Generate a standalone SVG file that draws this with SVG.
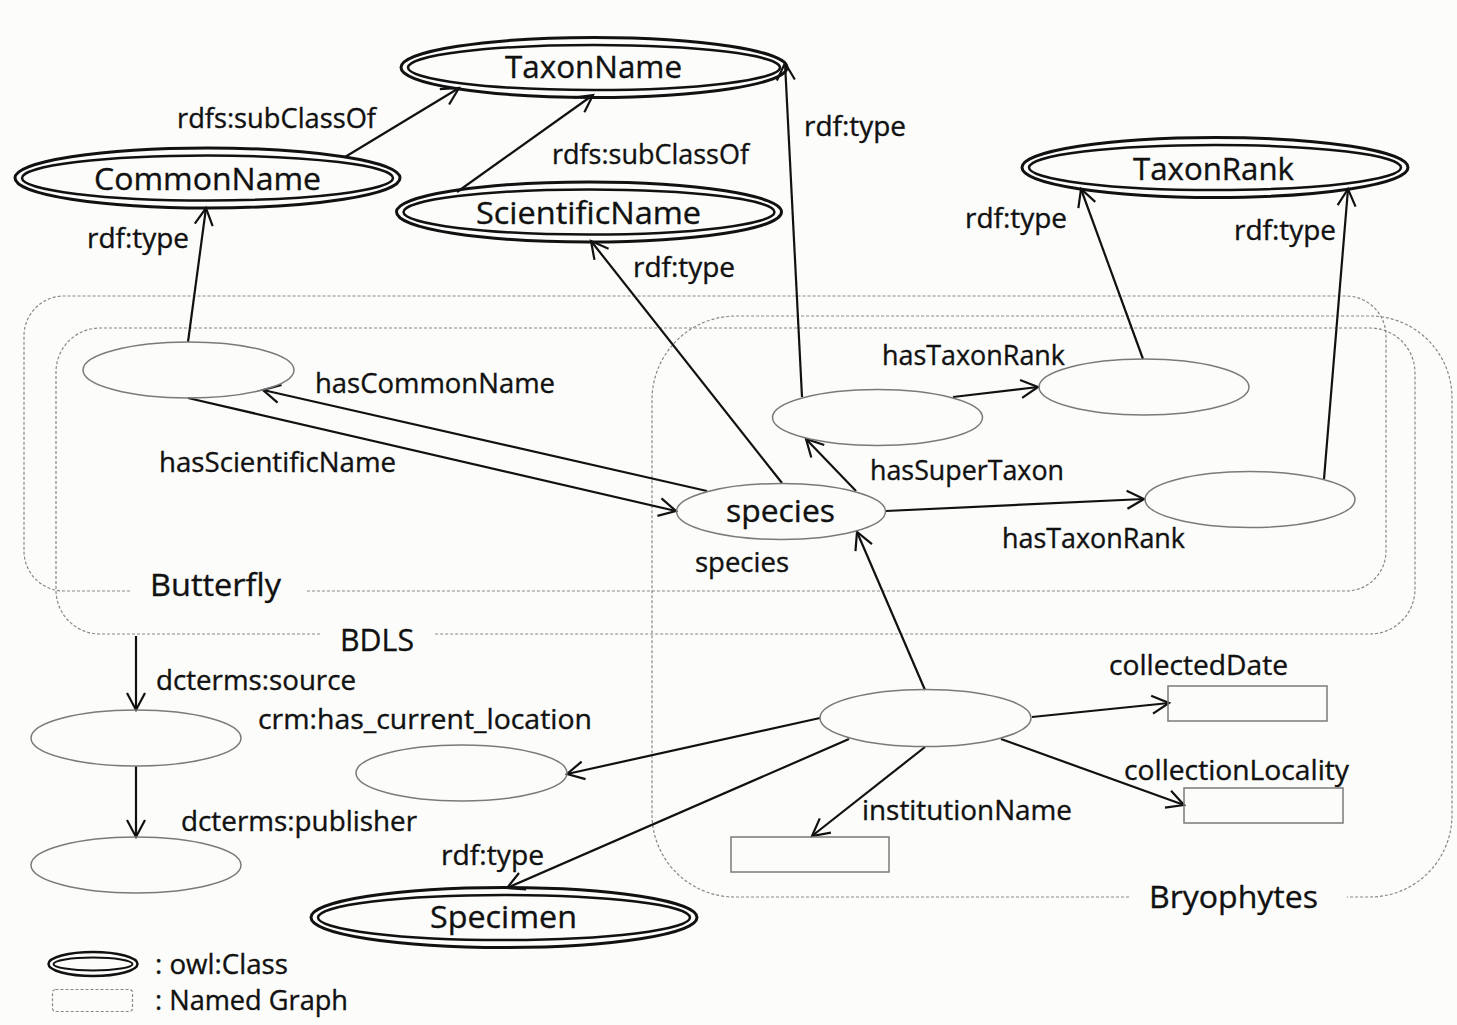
<svg xmlns="http://www.w3.org/2000/svg" width="1457" height="1025" viewBox="0 0 1457 1025">
<style>
text{font-family:"Open Sans","Noto Sans","Liberation Sans",sans-serif;fill:#111;stroke:#111;stroke-width:0.35;}
.cl{font-size:31px;}
.lb{font-size:27px;}
.dash{fill:none;stroke:#888;stroke-width:1.2;stroke-dasharray:3 2;}
.o{fill:none;stroke:#111;stroke-width:3;}
.i{fill:none;stroke:#111;stroke-width:2.5;}
.n{fill:none;stroke:#7a7a7a;stroke-width:1.5;}
.r{fill:none;stroke:#7a7a7a;stroke-width:1.5;}
.e{fill:none;stroke:#111;stroke-width:2.2;marker-end:url(#ah);}
</style>
<defs>
<marker id="ah" viewBox="-20 -12 24 24" markerWidth="24" markerHeight="24" refX="0" refY="0" orient="auto" markerUnits="userSpaceOnUse" overflow="visible">
<path d="M-17,-9 L0,0 L-17,9" fill="none" stroke="#111" stroke-width="2.2"/>
</marker>
</defs>
<rect width="1457" height="1025" fill="#fcfdfa"/>

<g id="graphs">
<g id="g-butterfly">
<path class="dash" d="M130,591 H64 A40,40 0 0 1 24,551 V336 A40,40 0 0 1 64,296 H1346 A40,40 0 0 1 1386,336 V551 A40,40 0 0 1 1346,591 H305"/>
<text class="cl" x="150" y="596" textLength="131" lengthAdjust="spacingAndGlyphs">Butterfly</text>
</g>
<g id="g-bdls">
<path class="dash" d="M320,634 H100 A44,44 0 0 1 56,590 V372 A44,44 0 0 1 100,328 H1370 A45,45 0 0 1 1415,373 V589 A45,45 0 0 1 1370,634 H435"/>
<text class="cl" x="340" y="651" textLength="74" lengthAdjust="spacingAndGlyphs">BDLS</text>
</g>
<g id="g-bryophytes">
<path class="dash" d="M1129,897 H735 A83,83 0 0 1 652,814 V400 A84,84 0 0 1 736,316 H1370 A82,82 0 0 1 1452,398 V815 A82,82 0 0 1 1370,897 H1347"/>
<text class="cl" x="1149" y="908" textLength="169" lengthAdjust="spacingAndGlyphs">Bryophytes</text>
</g>
</g>

<g id="connectors">
<line class="e" x1="345" y1="157" x2="459" y2="88"/>
<line class="e" x1="457" y1="192" x2="593" y2="95"/>
<line class="e" x1="188" y1="342" x2="206" y2="208"/>
<line class="e" x1="782" y1="483" x2="591" y2="241"/>
<line class="e" x1="802" y1="397" x2="785" y2="63"/>
<line class="e" x1="1143" y1="359" x2="1081" y2="189"/>
<line class="e" x1="1324" y1="479" x2="1348" y2="189"/>
<line class="e" x1="953" y1="397" x2="1038" y2="387"/>
<line class="e" x1="856" y1="491" x2="806" y2="439"/>
<line class="e" x1="886" y1="511" x2="1144" y2="499"/>
<line class="e" x1="707" y1="491" x2="263" y2="390"/>
<line class="e" x1="188" y1="398" x2="676" y2="511"/>
<line class="e" x1="925" y1="690" x2="857" y2="532"/>
<line class="e" x1="1032" y1="717" x2="1169" y2="703"/>
<line class="e" x1="1001" y1="739" x2="1184" y2="805"/>
<line class="e" x1="925" y1="747" x2="812" y2="836"/>
<line class="e" x1="820" y1="718" x2="567" y2="774"/>
<line class="e" x1="849" y1="739" x2="507" y2="888"/>
<line class="e" x1="136" y1="636" x2="136" y2="710"/>
<line class="e" x1="136" y1="766" x2="136" y2="837"/>
</g>

<g id="edge-labels">
<text class="lb" x="177" y="128" textLength="199" lengthAdjust="spacingAndGlyphs">rdfs:subClassOf</text>
<text class="lb" x="552" y="164" textLength="197" lengthAdjust="spacingAndGlyphs">rdfs:subClassOf</text>
<text class="lb" x="804" y="136" textLength="102" lengthAdjust="spacingAndGlyphs">rdf:type</text>
<text class="lb" x="87" y="248" textLength="102" lengthAdjust="spacingAndGlyphs">rdf:type</text>
<text class="lb" x="633" y="277" textLength="102" lengthAdjust="spacingAndGlyphs">rdf:type</text>
<text class="lb" x="965" y="228" textLength="102" lengthAdjust="spacingAndGlyphs">rdf:type</text>
<text class="lb" x="1234" y="240" textLength="102" lengthAdjust="spacingAndGlyphs">rdf:type</text>
<text class="lb" x="882" y="365" textLength="183" lengthAdjust="spacingAndGlyphs">hasTaxonRank</text>
<text class="lb" x="315" y="393" textLength="240" lengthAdjust="spacingAndGlyphs">hasCommonName</text>
<text class="lb" x="159" y="472" textLength="237" lengthAdjust="spacingAndGlyphs">hasScientificName</text>
<text class="lb" x="870" y="480" textLength="194" lengthAdjust="spacingAndGlyphs">hasSuperTaxon</text>
<text class="lb" x="1002" y="548" textLength="183" lengthAdjust="spacingAndGlyphs">hasTaxonRank</text>
<text class="lb" x="695" y="572" textLength="94" lengthAdjust="spacingAndGlyphs">species</text>
<text class="lb" x="1109" y="675" textLength="179" lengthAdjust="spacingAndGlyphs">collectedDate</text>
<text class="lb" x="156" y="690" textLength="200" lengthAdjust="spacingAndGlyphs">dcterms:source</text>
<text class="lb" x="258" y="729" textLength="334" lengthAdjust="spacingAndGlyphs">crm:has_current_location</text>
<text class="lb" x="1124" y="780" textLength="225" lengthAdjust="spacingAndGlyphs">collectionLocality</text>
<text class="lb" x="862" y="820" textLength="210" lengthAdjust="spacingAndGlyphs">institutionName</text>
<text class="lb" x="181" y="831" textLength="236" lengthAdjust="spacingAndGlyphs">dcterms:publisher</text>
<text class="lb" x="441" y="865" textLength="103" lengthAdjust="spacingAndGlyphs">rdf:type</text>
</g>

<g id="n-taxonname">
<ellipse class="o" cx="594" cy="67.5" rx="193" ry="30"/>
<ellipse class="i" cx="594" cy="67.5" rx="186" ry="22.5"/>
<text class="cl" x="505" y="78" textLength="177" lengthAdjust="spacingAndGlyphs">TaxonName</text>
</g>
<g id="n-commonname">
<ellipse class="o" cx="207.5" cy="178" rx="192.5" ry="30"/>
<ellipse class="i" cx="207.5" cy="178" rx="185.5" ry="22.5"/>
<text class="cl" x="94" y="190" textLength="227" lengthAdjust="spacingAndGlyphs">CommonName</text>
</g>
<g id="n-scientificname">
<ellipse class="o" cx="589" cy="212" rx="192.5" ry="30"/>
<ellipse class="i" cx="589" cy="212" rx="185.5" ry="22.5"/>
<text class="cl" x="476" y="224" textLength="225" lengthAdjust="spacingAndGlyphs">ScientificName</text>
</g>
<g id="n-taxonrank">
<ellipse class="o" cx="1215" cy="167.5" rx="193" ry="30"/>
<ellipse class="i" cx="1215" cy="167.5" rx="186" ry="22.5"/>
<text class="cl" x="1133" y="180" textLength="161" lengthAdjust="spacingAndGlyphs">TaxonRank</text>
</g>
<g id="n-specimen">
<ellipse class="o" cx="504" cy="917.5" rx="193" ry="30"/>
<ellipse class="i" cx="504" cy="917.5" rx="186" ry="22.5"/>
<text class="cl" x="430" y="928" textLength="147" lengthAdjust="spacingAndGlyphs">Specimen</text>
</g>

<g id="n-butterfly-subject"><ellipse class="n" cx="188.5" cy="370" rx="105.5" ry="28"/></g>
<g id="n-species">
<ellipse class="n" cx="781" cy="511.5" rx="104.5" ry="28"/>
<text class="cl" x="726" y="522" textLength="109" lengthAdjust="spacingAndGlyphs">species</text>
</g>
<g id="n-supertaxon"><ellipse class="n" cx="877.5" cy="417.5" rx="105" ry="28"/></g>
<g id="n-rank1"><ellipse class="n" cx="1144" cy="387" rx="105" ry="28"/></g>
<g id="n-rank2"><ellipse class="n" cx="1250" cy="499.5" rx="105" ry="28"/></g>
<g id="n-specimen-subject"><ellipse class="n" cx="925.5" cy="718" rx="105.5" ry="28.5"/></g>
<g id="n-location"><ellipse class="n" cx="461.5" cy="773" rx="105.5" ry="28"/></g>
<g id="n-source"><ellipse class="n" cx="136" cy="738" rx="105" ry="28"/></g>
<g id="n-publisher"><ellipse class="n" cx="136" cy="865" rx="105" ry="28"/></g>

<g id="n-collecteddate"><rect class="r" x="1168" y="686" width="159" height="35"/></g>
<g id="n-collectionlocality"><rect class="r" x="1184" y="788" width="159" height="35"/></g>
<g id="n-institutionname"><rect class="r" x="731" y="837" width="158" height="35"/></g>

<g id="legend">
<ellipse fill="none" stroke="#111" stroke-width="2.5" cx="93" cy="964" rx="44.5" ry="12"/>
<ellipse fill="none" stroke="#111" stroke-width="2" cx="93" cy="964" rx="39.5" ry="6.5"/>
<text class="lb" x="155" y="974" textLength="133" lengthAdjust="spacingAndGlyphs">: owl:Class</text>
<rect class="dash" x="52.5" y="989.5" width="80" height="22" rx="3"/>
<text class="lb" x="155" y="1010" textLength="193" lengthAdjust="spacingAndGlyphs">: Named Graph</text>
</g>
</svg>
